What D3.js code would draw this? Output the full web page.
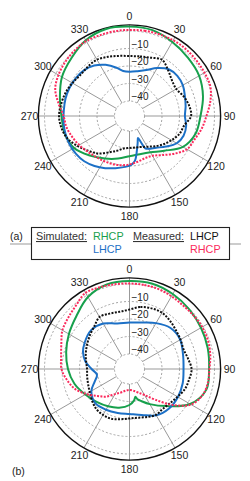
<!DOCTYPE html>
<html>
<head>
<meta charset="utf-8">
<script src="https://cdn.jsdelivr.net/npm/d3@7"></script>
<style>
  html, body { margin: 0; padding: 0; background: #fff; }
  svg { display: block; font-family: "Liberation Sans", Arial, sans-serif; }
</style>
</head>
<body>
<svg id="chart" width="250" height="481"></svg>
<script>
// polar grid ticks
var angleTicks = [0, 30, 60, 90, 120, 150, 180, 210, 240, 270, 300, 330];
var ringTicks = [-40, -30, -20, -10, 0];
var ringLabels = [-10, -20, -30, -40];

// angles (deg) shared by the measured curves
var ang10 = [0, 10, 20, 30, 40, 50, 60, 70, 80, 90, 100, 110, 120, 130, 140, 150, 160, 170,
  180, 190, 200, 210, 220, 230, 240, 250, 260, 270, 280, 290, 300, 310, 320, 330, 340, 350];

// (a) simulated RHCP
var angA_simR = [0, 15, 30, 45, 60, 75, 90, 105, 120, 135, 150, 165, 180, 195, 210, 225, 240,
  255, 270, 285, 300, 315, 330, 345];
var a_simRHCP = [2.5, 2.2, 0.3, -1.4, -2.6, -5.1, -8, -9.5, -13.3, -20.5, -24.6, -26, -25.6,
  -23.4, -20.5, -16.6, -12, -10.3, -9.7, -7.4, -4, -1.7, 1.4, 2.9];

// (a) simulated LHCP
var angA_simL = [0, 10, 20, 30, 40, 50, 60, 70, 80, 90, 100, 110, 120, 130, 140, 150, 154, 157,
  159, 163, 168, 173, 178, 185, 195, 205, 215, 225, 235, 245, 255, 265, 275, 285, 295, 305,
  315, 325, 335, 345, 352];
var a_simLHCP = [-23.3, -22.6, -20.6, -16.9, -13.7, -12.9, -13.4, -14.9, -16, -16.9, -15.7,
  -15.7, -17.4, -21.4, -24.9, -26.9, -28, -33.1, -35.1, -32.6, -28.3, -22.9, -20.6, -19.4,
  -17.7, -15.7, -13.7, -12, -11.1, -10.7, -10.6, -10.7, -10.9, -10.7, -10.7, -11, -11.7,
  -13.4, -16.3, -20, -22.6];

// (a) measured
var a_measLHCP = [-14.3, -14, -13.1, -11.4, -14.3, -16.9, -17.7, -15.7, -14, -13.4, -16.9,
  -18.3, -20.9, -23.4, -26, -28.3, -29.7, -30.3, -30.3, -29.7, -27.4, -24.6, -20.6, -17.7,
  -14.3, -10.9, -9.1, -8.3, -8.9, -9.7, -10.9, -12, -11.7, -11.4, -12.6, -13.7];
var a_measRHCP = [0.6, 0.9, 1.1, 1.4, 1.4, 1.1, 0.9, 0.6, -1.7, -4.6, -6.7, -9.1, -10.6, -15.1,
  -19.4, -22.3, -22.9, -22, -20.9, -20, -19.4, -18.9, -18.3, -17.1, -15.4, -13.7, -12, -10.9,
  -7.4, -3.4, -1.7, -0.6, 0.3, 0.9, 0.6, 0.6];

// (b) simulated RHCP
var angB_simR = [0, 15, 30, 45, 60, 75, 90, 105, 120, 135, 150, 160, 165, 168, 172, 180, 195,
  210, 225, 240, 255, 270, 285, 300, 315, 330, 345];
var b_simRHCP = [1.7, 1.9, 0.9, -0.3, -1.4, -2.3, -3.1, -3.1, -8.6, -18.6, -25.4, -29.1, -30.6,
  -32.3, -30.3, -28, -25.7, -24, -22, -19.4, -16, -13.4, -11.1, -8.6, -5.7, -1.1, 1.4];

// (b) simulated LHCP
var angB_simL = [0, 15, 30, 45, 60, 75, 90, 105, 120, 135, 150, 165, 180, 195, 210, 225, 240,
  250, 260, 270, 280, 290, 300, 315, 330, 345];
var b_simLHCP = [-22, -21.1, -18.3, -15.4, -15.1, -16.9, -17.7, -17.1, -16.6, -16.6, -18, -21.4,
  -22.9, -22.6, -21.7, -20.9, -23.4, -27.4, -29.7, -26.9, -22.9, -20.3, -18.9, -17.4, -18.6,
  -21.7];

// (b) measured
var b_measLHCP = [-14.6, -12.6, -11.7, -11.4, -12.6, -14, -14.9, -15.7, -14.6, -13.1, -14,
  -14.9, -16.9, -18.3, -18.9, -18.3, -19.4, -20.3, -20.3, -19.4, -18.3, -18.3, -18.9, -20.6,
  -22.3, -23.4, -24, -24.3, -23.4, -22, -20.6, -18.9, -17.1, -14.3, -14.9, -15.4];
var b_measRHCP = [0.3, 0.2, 0, -0.6, -1.1, -0.9, -0.6, -0.9, -1.7, -2.9, -3.1, -4.3, -8, -16.6,
  -25.7, -31.4, -34.3, -36, -36.6, -36, -34.3, -32, -28, -24.6, -20, -15.4, -12.3, -9.7, -8.9,
  -7.1, -4.3, -2.9, -1.1, 1.7, 1.1, 0.6];

var colGreen = '#17a04c',
    colBlue = '#1c70c6',
    colBlack = '#111',
    colRed = '#fb2a5c';

var svg = d3.select('#chart');

// dB -> radius in px
var rScale = d3.scaleLinear().domain([-40, 0]).range([15, 85]);
var outerR = rScale(3.5);

function zip(angles, values) {
  return angles.map(function (a, i) { return {a: a, v: values[i]}; });
}

function drawPolar(cx, cy, series) {
  var g = svg.append('g').attr('transform', 'translate(' + cx + ',' + cy + ')');

  // dashed rings
  g.selectAll('circle.ring')
    .data(ringTicks)
    .enter().append('circle')
      .attr('r', function (d) { return rScale(d); })
      .attr('fill', 'none')
      .attr('stroke', '#9a9a9a')
      .attr('stroke-width', 0.9)
      .attr('stroke-dasharray', '2,2');

  // spokes
  g.selectAll('line.spoke')
    .data(angleTicks)
    .enter().append('line')
      .attr('x1', function (d) { return rScale(-40) * Math.sin(d * Math.PI / 180); })
      .attr('y1', function (d) { return -rScale(-40) * Math.cos(d * Math.PI / 180); })
      .attr('x2', function (d) { return outerR * Math.sin(d * Math.PI / 180); })
      .attr('y2', function (d) { return -outerR * Math.cos(d * Math.PI / 180); })
      .attr('stroke', '#999')
      .attr('stroke-width', 1);

  g.append('circle')
    .attr('r', outerR)
    .attr('fill', 'none')
    .attr('stroke', '#111')
    .attr('stroke-width', 1.4);

  // angle labels
  g.selectAll('text.ang')
    .data(angleTicks)
    .enter().append('text')
      .attr('x', function (d) { return 100 * Math.sin(d * Math.PI / 180); })
      .attr('y', function (d) { return -100 * Math.cos(d * Math.PI / 180); })
      .attr('dy', '0.36em')
      .attr('text-anchor', 'middle')
      .attr('font-size', 10.5)
      .attr('fill', '#222')
      .text(function (d) { return d; });

  var line = d3.lineRadial()
    .angle(function (d) { return d.a * Math.PI / 180; })
    .radius(function (d) { return rScale(d.v); })
    .curve(d3.curveCatmullRomClosed.alpha(0.5));

  series.forEach(function (s) {
    g.append('path')
      .datum(zip(s.angles, s.values))
      .attr('d', line)
      .attr('fill', 'none')
      .attr('stroke', s.color)
      .attr('stroke-width', 2)
      .attr('stroke-dasharray', s.dotted ? '2,1.4' : null);
  });

  // ring labels
  g.selectAll('text.ringlab')
    .data(ringLabels)
    .enter().append('text')
      .attr('x', 2)
      .attr('y', function (d) { return -rScale(d) - 1; })
      .attr('font-size', 10)
      .attr('fill', '#222')
      .text(function (d) { return '\u2212' + Math.abs(d); });
}

drawPolar(129.5, 116, [
  {angles: angA_simR, values: a_simRHCP, color: colGreen},
  {angles: angA_simL, values: a_simLHCP, color: colBlue},
  {angles: ang10, values: a_measLHCP, color: colBlack, dotted: true},
  {angles: ang10, values: a_measRHCP, color: colRed, dotted: true}
]);

drawPolar(129.5, 369, [
  {angles: angB_simR, values: b_simRHCP, color: colGreen},
  {angles: angB_simL, values: b_simLHCP, color: colBlue},
  {angles: ang10, values: b_measLHCP, color: colBlack, dotted: true},
  {angles: ang10, values: b_measRHCP, color: colRed, dotted: true}
]);

// legend
var leg = svg.append('g');
leg.append('line')
  .attr('x1', 10).attr('x2', 241)
  .attr('y1', 244).attr('y2', 244)
  .attr('stroke', '#999').attr('stroke-width', 1);
leg.append('rect')
  .attr('x', 31.5).attr('y', 227.5)
  .attr('width', 198).attr('height', 32)
  .attr('fill', '#fff')
  .attr('stroke', '#222').attr('stroke-width', 1.1);

var legendItems = [
  {t: 'Simulated:', x: 36, y: 240, c: '#333', u: true},
  {t: 'RHCP', x: 93, y: 240, c: colGreen},
  {t: 'LHCP', x: 93, y: 253, c: colBlue},
  {t: 'Measured:', x: 133, y: 240, c: '#333', u: true},
  {t: 'LHCP', x: 190, y: 240, c: '#111'},
  {t: 'RHCP', x: 190, y: 253, c: colRed}
];
leg.selectAll('text.item')
  .data(legendItems)
  .enter().append('text')
    .attr('x', function (d) { return d.x; })
    .attr('y', function (d) { return d.y; })
    .attr('font-size', 10.8)
    .attr('fill', function (d) { return d.c; })
    .style('text-decoration', function (d) { return d.u ? 'underline' : null; })
    .text(function (d) { return d.t; });

svg.append('text').attr('x', 10).attr('y', 240)
  .attr('font-size', 10.5).attr('fill', '#222').text('(a)');
svg.append('text').attr('x', 12).attr('y', 475)
  .attr('font-size', 10.5).attr('fill', '#222').text('(b)');
</script>
</body>
</html>
